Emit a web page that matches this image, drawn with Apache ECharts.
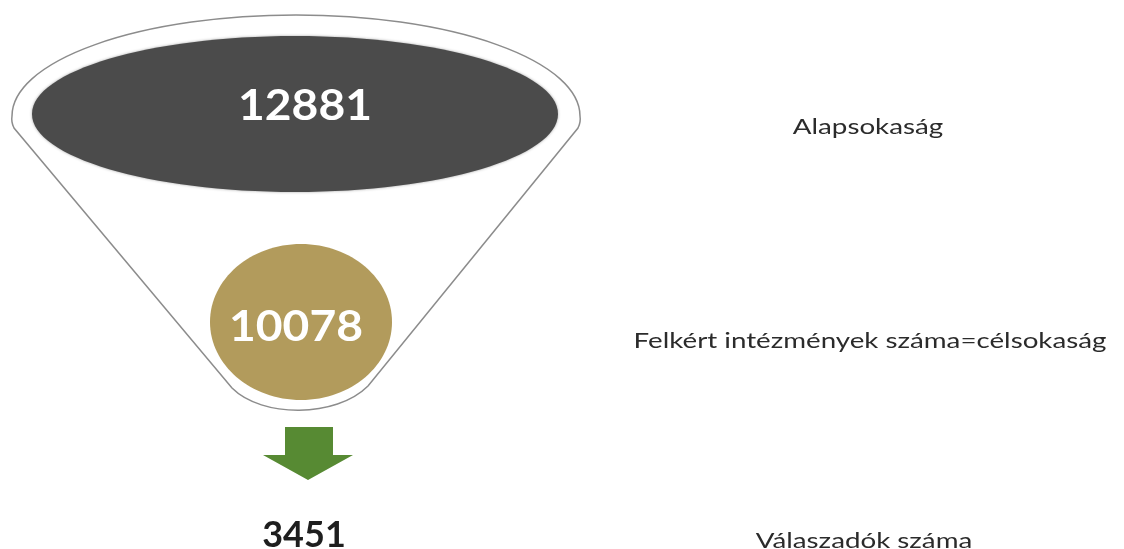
<!DOCTYPE html>
<html><head><meta charset="utf-8">
<script src="https://cdn.jsdelivr.net/npm/echarts@6/dist/echarts.min.js"></script>
<style>html,body{margin:0;padding:0;background:#fff}#c{width:1124px;height:549px}</style>
</head><body><div id="c"></div>
<script>
const stageNames = ['Alapsokaság', 'Felkért intézmények száma=célsokaság', 'Válaszadók száma'];
const stageValues = [12881, 10078, 3451];

const FUNNEL_X = 296;
const LABEL_X = 868;
const NUM_FONT = 'bold 42px Lato, "Noto Sans", sans-serif';
const LAB_FONT = '21px Lato, "Noto Sans", sans-serif';
const NUM_SX = 1.1;
const LAB_SX = 1.32;

function renderItem(params, api) {
  const i = api.value(0);
  const v = api.value(1);
  const p = api.coord([FUNNEL_X, i]);
  const cx = p[0], cy = p[1];
  const lx = api.coord([LABEL_X, i])[0];
  const P = (dx, dy) => (cx + dx).toFixed(1) + ' ' + (cy + dy).toFixed(1);
  const children = [];
  const label = (dx, dy) => ({
    type: 'text', x: lx + dx, y: cy + dy, scaleX: LAB_SX,
    style: { text: stageNames[i], fill: '#2b2b2b', font: LAB_FONT, textAlign: 'center', textVerticalAlign: 'middle' }
  });
  if (i === 0) {
    const d = 'M' + P(-282, 18) + ' Q' + P(-285, 12) + ' ' + P(-284, 6) +
      ' A 284 101 0 0 1 ' + P(284, 6) + ' Q' + P(285, 12) + ' ' + P(282, 18) +
      ' L' + P(72, 276) + ' C' + P(40, 308) + ' ' + P(-34, 308) + ' ' + P(-64, 278) + ' Z';
    children.push({ type: 'path', shape: { pathData: d }, style: { fill: '#ffffff', stroke: '#8c8c8c', lineWidth: 1.5 } });
    children.push({ type: 'ellipse', shape: { cx: cx - 1, cy: cy + 4, rx: 263, ry: 78 },
      style: { fill: '#4b4b4b', shadowBlur: 3, shadowColor: 'rgba(0,0,0,0.35)' } });
    children.push({ type: 'text', x: cx + 9, y: cy - 4, scaleX: NUM_SX,
      style: { text: String(v), fill: '#ffffff', font: NUM_FONT, textAlign: 'center', textVerticalAlign: 'middle' } });
    children.push(label(0, 17));
  } else if (i === 1) {
    children.push({ type: 'ellipse', shape: { cx: cx + 5, cy: cy + 2, rx: 91, ry: 78 },
      style: { fill: '#b29b5c' } });
    children.push({ type: 'text', x: cx, y: cy + 7, scaleX: NUM_SX,
      style: { text: String(v), fill: '#ffffff', font: NUM_FONT, textAlign: 'center', textVerticalAlign: 'middle' } });
    children.push(label(2, 21));
  } else {
    children.push({ type: 'polygon', shape: { points: [
      [cx - 11, cy - 103], [cx + 37, cy - 103], [cx + 37, cy - 75], [cx + 57, cy - 75],
      [cx + 12, cy - 50], [cx - 33, cy - 75], [cx - 11, cy - 75]] },
      style: { fill: '#578a33' } });
    children.push({ type: 'text', x: cx + 8, y: cy + 5, scaleX: 1.0,
      style: { text: String(v), fill: '#1e1e1e', font: 'bold 36px Lato, "Noto Sans", sans-serif', textAlign: 'center', textVerticalAlign: 'middle' } });
    children.push(label(-4, 11));
  }
  return { type: 'group', children };
}

const chart = echarts.init(document.getElementById('c'), null, { renderer: 'canvas' });
chart.setOption({
  animation: false,
  backgroundColor: '#ffffff',
  grid: { left: 0, right: 0, top: 110, bottom: 19 },
  xAxis: { type: 'value', min: 0, max: 1124, show: false },
  yAxis: { type: 'category', data: stageNames, inverse: true, boundaryGap: false, show: false },
  series: [{
    type: 'custom',
    renderItem: renderItem,
    encode: { y: 0, x: 2 },
    data: stageValues.map((v, i) => [i, v, 0])
  }]
});
</script></body></html>
